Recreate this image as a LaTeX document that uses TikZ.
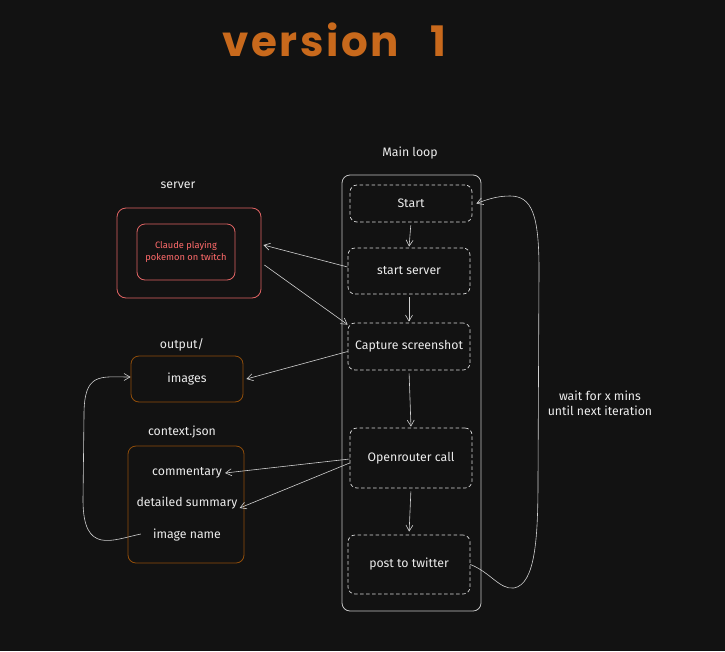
\documentclass[tikz,border=0pt]{standalone}
\usepackage{fontspec}
\setmainfont{Fira Sans}
\newfontfamily\titlefont[LetterSpace=6]{Poppins}
\usetikzlibrary{arrows.meta,calc}
\definecolor{bgc}{HTML}{121212}
\definecolor{linec}{HTML}{D0D0D0}
\definecolor{boxc}{HTML}{DADADA}
\definecolor{mainc}{HTML}{C4C4C4}
\definecolor{txtc}{HTML}{ECECEC}
\definecolor{orangec}{HTML}{8F4D0A}
\definecolor{titlec}{HTML}{C8691C}
\definecolor{redc}{HTML}{E06464}
\definecolor{redtxt}{HTML}{FF6B6B}
\tikzset{
  stepbox/.style={draw=boxc, dashed, dash pattern=on 3.5pt off 2.5pt, rounded corners=7pt, line width=0.7pt, inner sep=0pt, text=txtc, font=\fontsize{12.3}{15}\selectfont},
  lbl/.style={text=txtc, inner sep=0pt, font=\fontsize{12.3}{15}\selectfont},
  conn/.style={draw=linec, line width=0.6pt, -{Straight Barb[length=6pt,width=7pt]}},
}
\begin{document}
\begin{tikzpicture}[x=1pt,y=-1pt]
\fill[bgc] (0,0) rectangle (725,651);
\useasboundingbox (0,0) rectangle (725,651);

% title
\node[text=titlec, inner sep=0pt, font=\titlefont\fontsize{42}{48}\bfseries\selectfont] (title) at (334.5,40) {version\kern0.75em 1};

% main loop
\node[lbl] (mainlbl) at (410,153) {Main loop};
\node[draw=mainc, rounded corners=8pt, line width=0.8pt, minimum width=139pt, minimum height=436pt, inner sep=0pt] (main) at (411.5,393) {};

\node[stepbox, minimum width=122pt, minimum height=37pt] (start) at (411,203.5) {Start};
\node[stepbox, minimum width=122pt, minimum height=46pt] (ss) at (409,271) {start server};
\node[stepbox, minimum width=122pt, minimum height=47pt] (cap) at (409,346.5) {Capture screenshot};
\node[stepbox, minimum width=122pt, minimum height=60pt] (or) at (411,458) {Openrouter call};
\node[stepbox, minimum width=122pt, minimum height=59pt] (post) at (409,564.5) {post to twitter};

% server
\node[lbl] (srvlbl) at (178,185) {server};
\node[draw=redc, rounded corners=9pt, line width=0.8pt, minimum width=144pt, minimum height=90pt, inner sep=0pt] (srv) at (189,253) {};
\node[draw=redc, rounded corners=8pt, line width=0.8pt, minimum width=98pt, minimum height=56pt, inner sep=0pt, text=redtxt, align=center, font=\fontsize{9.3}{12}\selectfont] (claude) at (186,252) {Claude playing\\pokemon on twitch};

% output
\node[lbl] (outlbl) at (182,345) {output/};
\node[draw=orangec, rounded corners=8pt, line width=0.8pt, minimum width=112pt, minimum height=46pt, inner sep=0pt, text=txtc, font=\fontsize{12.3}{15}\selectfont] (img) at (187,379) {images};

% context
\node[lbl] (ctxlbl) at (182,432) {context.json};
\node[draw=orangec, rounded corners=8pt, line width=0.8pt, minimum width=116pt, minimum height=117pt, inner sep=0pt] (ctx) at (186,504.5) {};
\node[lbl] (comm) at (187,473) {commentary};
\node[lbl] (det) at (187,503) {detailed summary};
\node[lbl] (iname) at (187,535) {image name};

% wait label
\node[lbl, align=center] (wait) at (600,403) {wait for x mins\\until next iteration};

% vertical flow
\draw[conn, shorten <=3pt, shorten >=1pt] (start.south) -- (ss.north);
\draw[conn, shorten <=3pt, shorten >=1pt] (ss.south) -- (cap.north);
\draw[conn, shorten <=3pt, shorten >=1pt] (cap.south) -- (or.north);
\draw[conn, shorten <=3pt, shorten >=3pt] (or.south) -- (post.north);

% side arrows
\draw[conn] ($(ss.west)+(0,-4)$) -- ($(srv.east)+(2,-8)$);
\draw[conn] ($(srv.east)+(3,12)$) -- ($(cap.north west)+(0,2)$);
\draw[conn] ($(cap.west)+(0,5)$) -- ($(img.east)+(3,0)$);
\draw[conn] ($(or.west)+(0,1)$) -- ($(comm.east)+(3,0)$);
\draw[conn] ($(or.west)+(0,5)$) -- ($(det.east)+(2,5)$);

% image name back to images
\draw[conn] ($(iname.west)+(-12,-1)$) .. controls (112,540) and (83,555) .. (83,500) -- (84,415) .. controls (84,372) and (100,377) .. ($(img.west)+(0,-2)$);

% loop back
\draw[conn] (post.east) .. controls (490,572) and (500,590) .. (514,588) .. controls (535,584) and (538,540) .. (538,480) -- (539,270) .. controls (539,215) and (532,196) .. (510,196) .. controls (496,196) and (486,200) .. ($(start.east)+(4,0)$);
\end{tikzpicture}
\end{document}
